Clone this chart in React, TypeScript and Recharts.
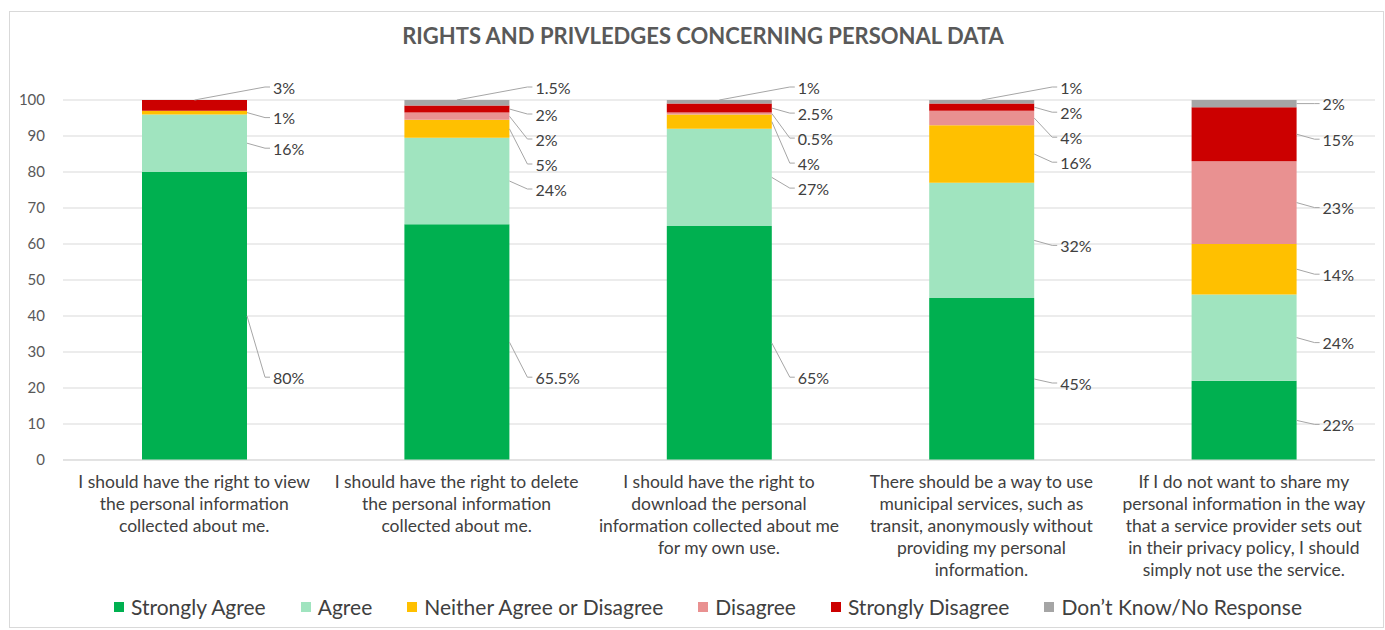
import { BarChart, Bar, XAxis, YAxis, CartesianGrid, LabelList } from 'recharts';

const FONT = 'Lato, "Open Sans", sans-serif';

// Survey statements (line breaks as they wrap in the original)
const categories = [
  'I should have the right to view\nthe personal information\ncollected about me.',
  'I should have the right to delete\nthe personal information\ncollected about me.',
  'I should have the right to\ndownload the personal\ninformation collected about me\nfor my own use.',
  'There should be a way to use\nmunicipal services, such as\ntransit, anonymously without\nproviding my personal\ninformation.',
  'If I do not want to share my\npersonal information in the way\nthat a service provider sets out\nin their privacy policy, I should\nsimply not use the service.',
];

// Percentages per response
const strongAgree = [80, 65.5, 65, 45, 22];
const agree = [16, 24, 27, 32, 24];
const neither = [1, 5, 4, 16, 14];
const disagree = [0, 2, 0.5, 4, 23];
const strongDisagree = [3, 2, 2.5, 2, 15];
const dontKnow = [0, 1.5, 1, 1, 2];

const yTicks = [0, 10, 20, 30, 40, 50, 60, 70, 80, 90, 100];

const SERIES = [
  { key: 'sa', name: 'Strongly Agree', values: strongAgree, color: '#00b050' },
  { key: 'a', name: 'Agree', values: agree, color: '#a0e4bf' },
  { key: 'n', name: 'Neither Agree or Disagree', values: neither, color: '#ffc000' },
  { key: 'd', name: 'Disagree', values: disagree, color: '#e99191' },
  { key: 'sd', name: 'Strongly Disagree', values: strongDisagree, color: '#cc0000' },
  { key: 'dk', name: 'Don\u2019t Know/No Response', values: dontKnow, color: '#a5a5a5' },
];

const data = categories.map((name, i) => {
  const row: Record<string, string | number> = { name, idx: i };
  SERIES.forEach((s) => (row[s.key] = s.values[i]));
  return row;
});

type LabelPos = { labelY: number; anchorY: number; fromTop: boolean };

// Spread the callout labels of one bar so they don't overlap
function layoutBar(i: number, base: number, ppu: number): Record<number, LabelPos> {
  const px = (v: number) => base - v * ppu;
  let cum = 0;
  const segs = SERIES.map((s, k) => {
    const v = s.values[i];
    const seg = { k, v, lo: cum, hi: cum + v };
    cum += v;
    return seg;
  });
  const out: Record<number, LabelPos> = {};
  const first = segs[0];
  const firstMid = px(first.v / 2);
  out[0] = { labelY: Math.max(firstMid + 4, px(23)), anchorY: firstMid, fromTop: false };

  const GAP = 25;
  const rest = segs.slice(1).filter((s) => s.v > 0).reverse();
  let prev = 0;
  rest.forEach((s, j) => {
    const mid = px((s.lo + s.hi) / 2);
    let y: number;
    let fromTop = false;
    if (j === 0) {
      const next = rest[1];
      const nextY = next ? px((next.lo + next.hi) / 2) + 5 : Infinity;
      if (nextY - mid < GAP) {
        y = px(s.hi) - 13;
        fromTop = true;
      } else {
        y = mid;
      }
    } else {
      y = Math.max(mid + 5, prev + GAP);
    }
    prev = y;
    out[s.k] = { labelY: y, anchorY: fromTop ? px(s.hi) : mid, fromTop };
  });
  return out;
}

function SegmentLabel(props: any) {
  const { seriesIdx } = props;
  const index = Number(props.value);
  const vb = props.viewBox || props;
  const { x, y, width, height } = vb;
  const v = SERIES[seriesIdx].values[index];
  if (!v || !height) return null;
  let start = 0;
  for (let k = 0; k < seriesIdx; k++) start += SERIES[k].values[index];
  const ppu = height / v;
  const base = y + height + start * ppu;
  const pos = layoutBar(index, base, ppu)[seriesIdx];
  if (!pos) return null;
  const right = x + width;
  const sx = pos.fromTop ? x + width / 2 : right;
  const points = `${sx},${pos.anchorY} ${right + 18},${pos.labelY} ${right + 23},${pos.labelY}`;
  return (
    <g>
      <polyline points={points} fill="none" stroke="#a6a6a6" strokeWidth={1} />
      <text
        x={right + 26}
        y={pos.labelY}
        dominantBaseline="central"
        fontSize={16}
        fontFamily={FONT}
        fill="#404040"
      >
        {v}%
      </text>
    </g>
  );
}

function CategoryTick({ x, y, payload }: any) {
  const lines = String(payload.value).split('\n');
  return (
    <text x={x} y={y} textAnchor="middle" fontSize={17.5} fontFamily={FONT} fill="#404040">
      {lines.map((line, i) => (
        <tspan key={i} x={x} dy={i === 0 ? 20 : 22}>
          {line}
        </tspan>
      ))}
    </text>
  );
}

export default function App() {
  return (
    <div style={{ position: 'fixed', left: 0, top: 0, width: 1385, height: 630, background: '#fff' }}>
      <div
        style={{
          position: 'absolute',
          left: 9,
          top: 11,
          width: 1375,
          height: 617,
          boxSizing: 'border-box',
          border: '1px solid #d9d9d9',
        }}
      />
      <div
        style={{
          position: 'absolute',
          left: 0,
          top: 22,
          width: 1406,
          textAlign: 'center',
          fontFamily: FONT,
          fontWeight: 700,
          fontSize: 22,
          color: '#595959',
        }}
      >
        RIGHTS AND PRIVLEDGES CONCERNING PERSONAL DATA
      </div>
      <div style={{ position: 'absolute', left: 0, top: 0 }}>
        <BarChart
          width={1385}
          height={630}
          data={data}
          barSize={105}
          margin={{ top: 100, right: 10, left: 23, bottom: 40 }}
        >
          <CartesianGrid vertical={false} stroke="#d9d9d9" />
          <XAxis
            dataKey="name"
            interval={0}
            height={130}
            tickLine={false}
            axisLine={{ stroke: '#d9d9d9' }}
            tick={<CategoryTick />}
          />
          <YAxis
            width={40}
            domain={[0, 100]}
            ticks={yTicks}
            axisLine={false}
            tickLine={false}
            tickSize={6}
            tickMargin={12}
            tick={{ fontSize: 15, fontFamily: FONT, fill: '#595959' }}
          />
          {SERIES.map((s, k) => (
            <Bar key={s.key} dataKey={s.key} name={s.name} stackId="a" fill={s.color} isAnimationActive={false}>
              <LabelList dataKey="idx" content={(p: any) => <SegmentLabel {...p} seriesIdx={k} />} />
            </Bar>
          ))}
        </BarChart>
      </div>
      <div
        style={{
          position: 'absolute',
          left: 114,
          top: 594,
          display: 'flex',
          alignItems: 'center',
          gap: 35,
          fontFamily: FONT,
          fontSize: 21,
          color: '#404040',
          whiteSpace: 'nowrap',
        }}
      >
        {SERIES.map((s) => (
          <div key={s.key} style={{ display: 'flex', alignItems: 'center', gap: 7 }}>
            <span style={{ width: 10, height: 10, background: s.color, display: 'inline-block' }} />
            <span>{s.name}</span>
          </div>
        ))}
      </div>
    </div>
  );
}
